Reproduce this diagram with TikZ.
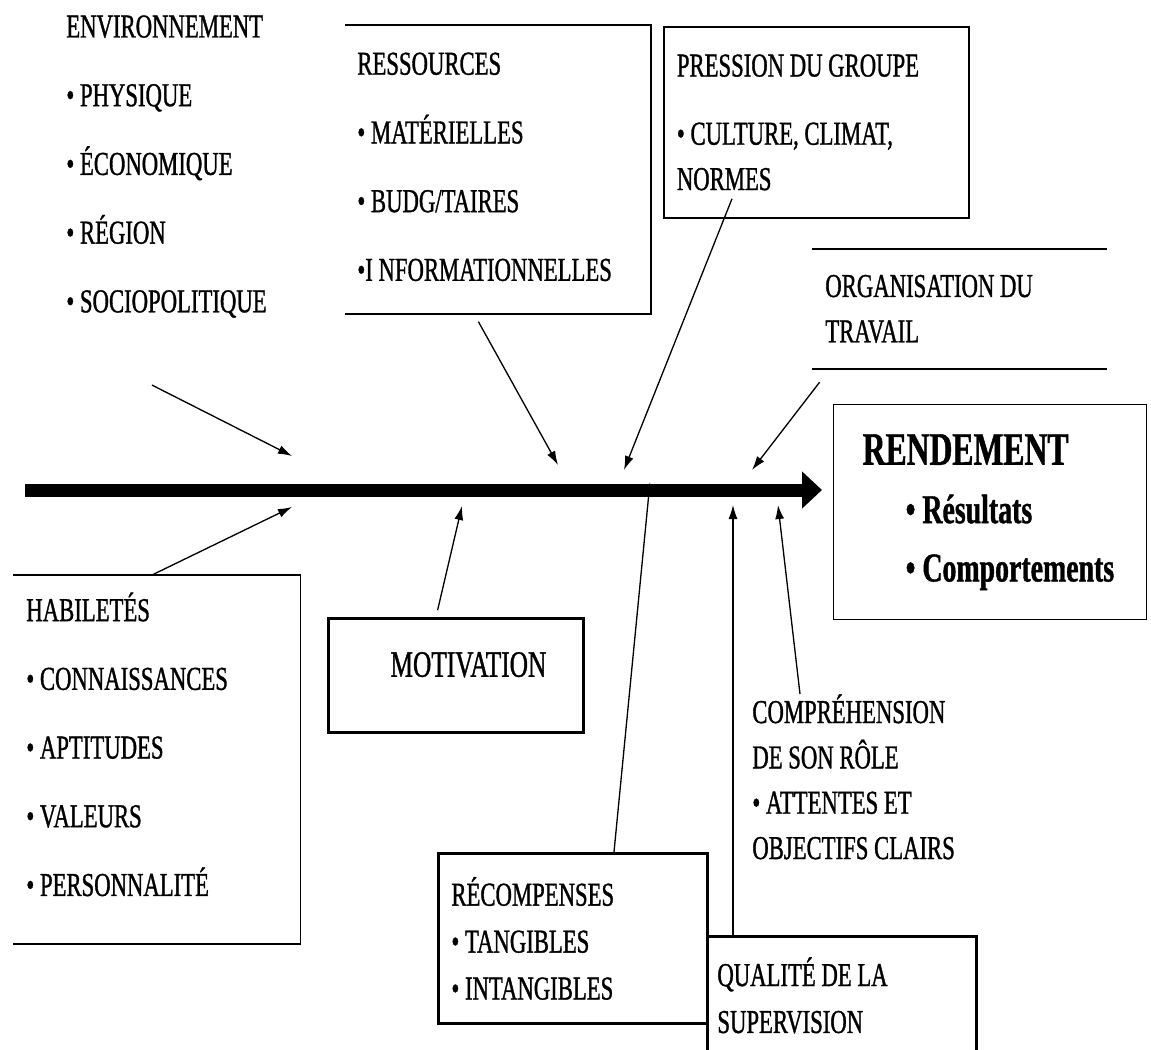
\documentclass[tikz,border=0pt]{standalone}
\usepackage{fontspec}
\setmainfont{Liberation Serif}[FakeStretch=0.68, FakeBold=1]
\usetikzlibrary{arrows.meta, calc}
\newcommand\listelarge{\fontsize{19}{39.1}\selectfont}
\newcommand\listeserree{\fontsize{19}{25.8}\selectfont}
\newcommand\listerec{\fontsize{19}{26.7}\selectfont}
\tikzset{
  facteur/.style={rectangle, anchor=north west, inner ysep=0pt, inner xsep=2.6mm, align=flush left, font=\listelarge},
  cadre/.style={facteur, draw, line width=1pt},
  trait/.style={line width=0.9pt},
  fleche/.style={-{Latex[length=2.8mm, width=1.8mm]}, line width=0.75pt},
  axe/.style={-{Triangle[length=4mm, width=7.2mm]}, line width=2.6mm},
}
\begin{document}
\begin{tikzpicture}[x=0.2mm, y=-0.2mm]
  \useasboundingbox (0,0) rectangle (1151,1050);

  % axe principal
  \coordinate (queue) at (25,490);
  \coordinate (tete) at (822,490);
  \draw[axe] (queue) -- (tete);

  % facteurs du haut
  \node[facteur, inner xsep=0pt] (env) at (66,15)
    {ENVIRONNEMENT\\• PHYSIQUE\\• ÉCONOMIQUE\\• RÉGION\\• SOCIOPOLITIQUE};
  \node[facteur, inner xsep=2.4mm, text width=56.2mm, minimum height=58.6mm] (res) at (345,20)
    {RESSOURCES\\• MATÉRIELLES\\• BUDG/TAIRES\\•I NFORMATIONNELLES};
  \draw[trait] ([yshift=-1mm]res.north west) -- ([yshift=-1mm]res.north east) -- (res.south east) -- (res.south west);
  \node[cadre, text width=55.8mm, minimum height=38.2mm, font=\listeserree] (pres) at (663,26)
    {PRESSION DU GROUPE\\[13pt]• CULTURE, CLIMAT,\\NORMES};
  \node[facteur, text width=53.6mm, minimum height=23.8mm, font=\listeserree] (org) at (812,249)
    {ORGANISATION DU\\TRAVAIL};
  \draw[trait] (org.north west) -- (org.north east);
  \draw[trait] (org.south west) -- (org.south east);

  % resultat
  \node[cadre, line width=0.8pt, inner xsep=1mm, text width=60.6mm, minimum height=43mm,
    font=\fontsize{23.3}{33.2}\selectfont\bfseries] (rend) at (833,404)
    {\hspace*{4.8mm}{\fontsize{26.5}{33.2}\selectfont RENDEMENT}\\\hspace*{13.4mm}• Résultats\\\hspace*{13.4mm}• Comportements};

  % facteurs du bas
  \node[facteur, text width=52.2mm, minimum height=79.6mm] (hab) at (13,545)
    {HABILETÉS\\• CONNAISSANCES\\• APTITUDES\\• VALEURS\\• PERSONNALITÉ};
  \draw[trait] ([yshift=-6mm]hab.north west) -- ([yshift=-6mm]hab.north east) -- (hab.south east) -- (hab.south west);
  \node[cadre, line width=1.6pt, minimum width=51mm, minimum height=22.8mm, align=center,
    text depth=4.4mm, font=\fontsize{21.2}{24}\selectfont] (mot) at (327,617) {\hspace*{5mm}MOTIVATION};
  \node[facteur, inner xsep=0pt, font=\listeserree] (comp) at (752,694)
    {COMPRÉHENSION\\DE SON RÔLE\\• ATTENTES ET\\OBJECTIFS CLAIRS};
  \node[cadre, line width=1.6pt, text width=48.6mm, minimum height=34mm, font=\listerec] (rec) at (437,852)
    {RÉCOMPENSES\\• TANGIBLES\\• INTANGIBLES};
  \node[cadre, line width=1.6pt, inner xsep=2mm, text width=49.8mm, minimum height=23.6mm, font=\listerec] (qual) at (706,935)
    {QUALITÉ DE LA\\SUPERVISION};

  % pointes sur l'axe
  \coordinate (p-env) at (292,456);
  \coordinate (p-hab) at (292,507);
  \coordinate (p-res) at (558,465);
  \coordinate (p-pres) at (624,470);
  \coordinate (p-org) at (752,470);
  \coordinate (p-mot) at (462,506);
  \coordinate (p-rec) at (650,482);
  \coordinate (p-qual) at (733,505);
  \coordinate (p-comp) at (778,505);

  \draw[fleche] ($(env.south west)+(86,67)$) -- (p-env);
  \draw[fleche] ($(152,0 |- hab.north)+(0,30)$) -- (p-hab);
  \draw[fleche, shorten <=1.8mm] (474,0 |- res.south) -- (p-res);
  \draw[fleche] ($(732,0 |- pres.south)+(0,-20)$) -- (p-pres);
  \draw[fleche, shorten <=3.4mm] (830,0 |- org.south) -- (p-org);
  \draw[fleche, shorten <=1.4mm] (436,0 |- mot.north) -- (p-mot);
  \draw[fleche] (614,0 |- rec.north) -- (p-rec);
  \draw[fleche] (733,0 |- qual.north) -- (p-qual);
  \draw[fleche] (800,0 |- comp.north) -- (p-comp);
\end{tikzpicture}
\end{document}
